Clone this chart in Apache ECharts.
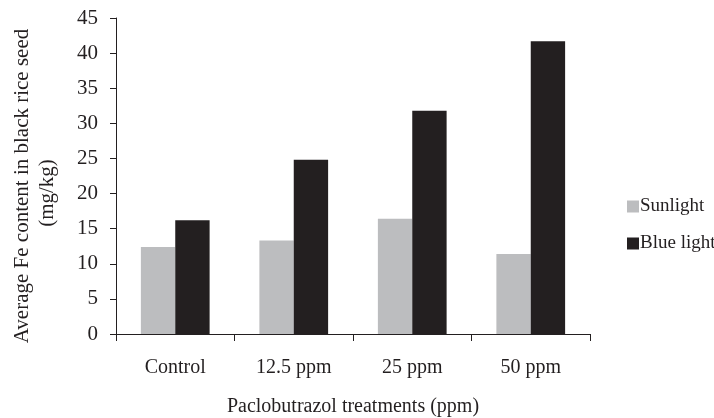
<!DOCTYPE html>
<html><head><meta charset="utf-8">
<script src="https://cdn.jsdelivr.net/npm/echarts@6/dist/echarts.min.js"></script>
<style>html,body{margin:0;padding:0;background:#fff}#c{width:714px;height:418px}</style>
</head><body><div id="c"></div>
<script>
const categories = ['Control', '12.5 ppm', '25 ppm', '50 ppm'];
const sunlight = [12.4, 13.3, 16.4, 11.4];
const blueLight = [16.2, 24.8, 31.8, 41.7];
const seriesNames = ['Sunlight', 'Blue light'];
const yTitle = ['Average Fe content in black rice seed', '(mg/kg)'];
const xTitle = 'Paclobutrazol treatments (ppm)';
const FONT = '"Liberation Serif", "DejaVu Serif", serif';
const TXT = '#231f20';
const chart = echarts.init(document.getElementById('c'), null, {renderer: 'canvas'});
chart.setOption({
  animation: false,
  backgroundColor: '#fff',
  textStyle: {fontFamily: FONT, color: TXT},
  grid: {left: 116, right: 124, top: 18, bottom: 84, containLabel: false, outerBoundsMode: 'none'},
  legend: {
    orient: 'vertical', left: 622, top: 192, itemWidth: 12, itemHeight: 12, itemGap: 18,
    icon: 'rect', textStyle: {fontFamily: FONT, fontSize: 19, color: TXT, padding: [0,0,0,-4]},
    data: seriesNames
  },
  xAxis: {
    type: 'category', data: categories,
    axisLine: {lineStyle: {color: TXT, width: 1}},
    axisTick: {show: true, length: 7, inside: false, lineStyle: {color: TXT}},
    axisLabel: {fontFamily: FONT, fontSize: 20, color: TXT, margin: 24},
    name: xTitle, nameLocation: 'middle', nameGap: 63,
    nameTextStyle: {fontFamily: FONT, fontSize: 20, color: TXT}
  },
  yAxis: {
    type: 'value', min: 0, max: 45, interval: 5,
    axisLine: {show: true, lineStyle: {color: TXT, width: 1}},
    axisTick: {show: true, length: 6, lineStyle: {color: TXT}},
    splitLine: {show: false},
    axisLabel: {fontFamily: FONT, fontSize: 21, color: TXT, margin: 18}
  },
  graphic: [
    {type: 'text', rotation: Math.PI/2, x: 22, y: 186,
     style: {text: yTitle[0], fontFamily: FONT, fontSize: 21, fill: TXT, textAlign: 'center', textVerticalAlign: 'middle'}},
    {type: 'text', rotation: Math.PI/2, x: 47, y: 193,
     style: {text: yTitle[1], fontFamily: FONT, fontSize: 21, fill: TXT, textAlign: 'center', textVerticalAlign: 'middle'}}
  ],
  series: [
    {name: seriesNames[0], type: 'bar', data: sunlight, barGap: '0%', barCategoryGap: '42%', itemStyle: {color: '#bcbdbf'}},
    {name: seriesNames[1], type: 'bar', data: blueLight, barGap: '0%', barCategoryGap: '42%', itemStyle: {color: '#231f20'}}
  ]
});
</script></body></html>
